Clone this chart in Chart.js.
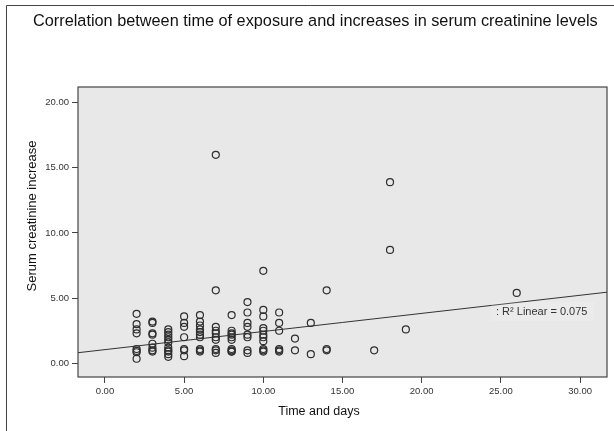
<!DOCTYPE html>
<html>
<head>
<meta charset="utf-8">
<script src="https://cdn.jsdelivr.net/npm/chart.js@4/dist/chart.umd.min.js"></script>
<style>
  html, body { margin: 0; padding: 0; background: #fff; }
  #wrap { width: 614px; height: 431px; }
</style>
</head>
<body>
<div id="wrap"><canvas id="Chart1" width="614" height="431"></canvas></div>
<script>
// values, one list per day of exposure
const exposureDays = [2, 3, 4, 5, 6, 7, 8, 9, 10, 11, 12, 13, 14, 17, 18, 19, 26];
const creatinineByDay = [
  [3.8, 3.0, 2.6, 2.3, 1.1, 0.95, 0.85, 0.35],
  [3.2, 3.1, 2.3, 2.2, 1.5, 1.2, 1.0, 0.9],
  [2.6, 2.4, 2.2, 2.0, 1.8, 1.6, 1.2, 1.0, 0.9, 0.7, 0.5],
  [3.6, 3.1, 2.8, 2.0, 1.1, 1.0, 0.55],
  [3.7, 3.2, 2.9, 2.6, 2.4, 2.2, 2.0, 1.1, 1.0, 0.9],
  [16.0, 5.6, 2.8, 2.5, 2.3, 2.0, 1.8, 1.1, 1.0, 0.8],
  [3.7, 2.5, 2.3, 2.2, 2.0, 1.8, 1.1, 1.0, 0.9, 0.9],
  [4.7, 3.9, 3.1, 2.8, 2.2, 2.0, 1.0, 0.8],
  [7.1, 4.1, 3.6, 2.7, 2.5, 2.2, 2.0, 1.7, 1.1, 1.0, 0.9],
  [3.9, 3.1, 2.5, 1.1, 1.0, 0.9],
  [1.9, 1.0],
  [3.1, 0.7],
  [5.6, 1.1, 1.0],
  [1.0],
  [13.9, 8.7],
  [2.6],
  [5.4]
];

// fit line as shown on the chart
const fitIntercept = 1.05;
const fitSlope = 0.139;
const fitLabel = ': R\u00b2 Linear = 0.075';

const xTicks = [0, 5, 10, 15, 20, 25, 30];
const yTicks = [0, 5, 10, 15, 20];
const xMin = -1.7, xMax = 31.7;
const yMin = -1.05, yMax = 21.2;

const chartTitle = 'Correlation between time of exposure and increases in serum creatinine levels';
const xTitle = 'Time and days';
const yTitle = 'Serum creatinine increase';

const points = [];
exposureDays.forEach(function(d, i) {
  creatinineByDay[i].forEach(function(v) {
    points.push({x: d, y: v});
  });
});

const fitLine = [
  {x: xMin, y: fitIntercept + fitSlope * xMin},
  {x: xMax, y: fitIntercept + fitSlope * xMax}
];

const sansFont = '"Liberation Sans", Arial, sans-serif';

// frame, plot background, border and the extra texts
const spssLook = {
  id: 'spssLook',
  beforeDraw(chart) {
    const ctx = chart.ctx;
    const a = chart.chartArea;
    ctx.save();
    ctx.fillStyle = '#e8e8e8';
    ctx.fillRect(a.left, a.top, a.right - a.left, a.bottom - a.top);
    ctx.strokeStyle = '#444';
    ctx.lineWidth = 1;
    ctx.beginPath();
    ctx.moveTo(6.5, 431);
    ctx.lineTo(6.5, 5.5);
    ctx.lineTo(614, 5.5);
    ctx.stroke();

    ctx.fillStyle = '#111';
    ctx.font = '16.3px ' + sansFont;
    ctx.textAlign = 'left';
    ctx.textBaseline = 'middle';
    ctx.fillText(chartTitle, 33, 21.5);

    ctx.font = '12.5px ' + sansFont;
    ctx.textAlign = 'center';
    ctx.fillText(xTitle, 319, 412);

    ctx.translate(32, 216);
    ctx.rotate(-Math.PI / 2);
    ctx.font = '13px ' + sansFont;
    ctx.fillText(yTitle, 0, 0);
    ctx.restore();
  },
  afterDatasetsDraw(chart) {
    const ctx = chart.ctx;
    const a = chart.chartArea;
    ctx.save();
    ctx.font = '11px ' + sansFont;
    ctx.textAlign = 'left';
    ctx.textBaseline = 'middle';
    const w = ctx.measureText(fitLabel).width;
    ctx.fillStyle = 'rgba(255,255,255,0.15)';
    ctx.fillRect(491, 302, w + 12, 19);
    ctx.fillStyle = '#333';
    ctx.fillText(fitLabel, 496, 311.5);
    ctx.strokeStyle = '#444';
    ctx.lineWidth = 1.2;
    ctx.strokeRect(a.left, a.top, a.right - a.left, a.bottom - a.top);
    ctx.restore();
  }
};

const ctx = document.getElementById('Chart1').getContext('2d');
const myChart = new Chart(ctx, {
  type: 'scatter',
  data: {
    datasets: [
      {
        label: 'Serum creatinine increase',
        data: points,
        pointRadius: 3.5,
        pointBorderWidth: 1.2,
        borderColor: '#2e2e2e',
        backgroundColor: 'rgba(0,0,0,0)'
      },
      {
        type: 'line',
        label: 'Linear fit',
        data: fitLine,
        borderColor: '#333',
        borderWidth: 1,
        pointRadius: 0,
        fill: false
      }
    ]
  },
  plugins: [spssLook],
  options: {
    responsive: false,
    animation: false,
    devicePixelRatio: 1,
    layout: { padding: { top: 87, right: 7, bottom: 0, left: 0 } },
    plugins: {
      legend: { display: false },
      title: { display: false },
      tooltip: { enabled: false }
    },
    scales: {
      x: {
        type: 'linear',
        min: xMin,
        max: xMax,
        afterBuildTicks: function(s) { s.ticks = xTicks.map(function(v) { return {value: v}; }); },
        afterFit: function(s) { s.height = 54; },
        grid: { drawOnChartArea: false, drawTicks: true, tickLength: 6, color: '#444' },
        border: { display: false },
        ticks: {
          padding: 3,
          color: '#333',
          font: { family: sansFont, size: 9.5 },
          maxRotation: 0,
          callback: function(value) { return Number(value).toFixed(2); }
        }
      },
      y: {
        type: 'linear',
        min: yMin,
        max: yMax,
        afterBuildTicks: function(s) { s.ticks = yTicks.map(function(v) { return {value: v}; }); },
        afterFit: function(s) { s.width = 78; },
        grid: { drawOnChartArea: false, drawTicks: true, tickLength: 6, color: '#444' },
        border: { display: false },
        ticks: {
          padding: 3,
          color: '#333',
          font: { family: sansFont, size: 9.5 },
          callback: function(value) { return Number(value).toFixed(2); }
        }
      }
    }
  }
});
</script>
</body>
</html>
